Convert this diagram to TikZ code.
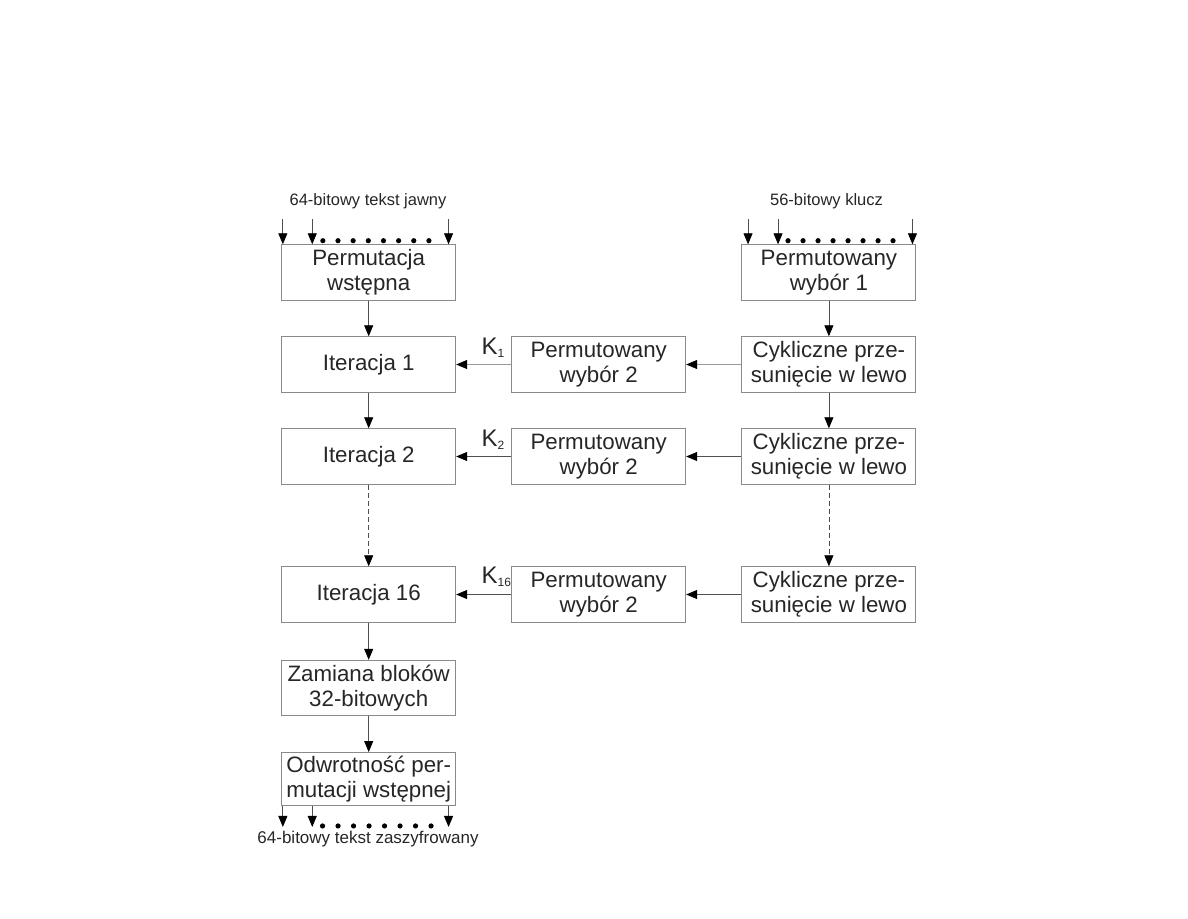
\documentclass[tikz,border=0pt]{standalone}
\usepackage{fontspec}
\setmainfont{Liberation Sans}
\usetikzlibrary{arrows.meta,calc}
\definecolor{boxline}{HTML}{8A8A8A}
\definecolor{conn}{HTML}{505050}
\definecolor{connlight}{HTML}{9A9A9A}
\definecolor{txt}{HTML}{262626}
\newcommand{\ksub}[1]{\raisebox{-3pt}{\fontsize{12}{12}\selectfont #1}}
\begin{document}
\begin{tikzpicture}[x=1pt,y=-1pt,
  box/.style={draw=boxline,line width=0.9pt,minimum width=174pt,minimum height=55.5pt,
    inner sep=0pt,align=center,text=txt,font=\fontsize{22.3}{25}\selectfont},
  arr/.style={draw=conn,line width=0.8pt,-{Triangle[length=11pt,width=9pt,color=black]}},
  arrlight/.style={arr,draw=connlight},
  dasharr/.style={arr,dash pattern=on 5pt off 3pt},
  lab/.style={inner sep=0pt,text=txt,font=\fontsize{16.5}{18}\selectfont},
  klab/.style={inner sep=0pt,text=txt,font=\fontsize{24}{26}\selectfont},
  dotfill/.style={fill=black}
]
\useasboundingbox (0,0) rectangle (1188,918);

% left column
\node[box] (pw) at (368.7,272.5) {Permutacja\\wstępna};
\node[box] (it1) at (368.7,364.5) {Iteracja 1};
\node[box] (it2) at (368.7,456.5) {Iteracja 2};
\node[box] (it16) at (368.7,594.5) {Iteracja 16};
\node[box] (zam) at (368.7,688) {Zamiana bloków\\32-bitowych};
\node[box,minimum height=53pt] (odw) at (368.7,779) {Odwrotność per-\\mutacji wstępnej};

% middle column
\node[box] (pwa) at (598.7,364.5) {Permutowany\\wybór 2};
\node[box] (pwb) at (598.7,456.5) {Permutowany\\wybór 2};
\node[box] (pwc) at (598.7,594.5) {Permutowany\\wybór 2};

% right column
\node[box] (pw1) at (828.9,272.5) {Permutowany\\wybór 1};
\node[box] (cpa) at (828.9,364.5) {Cykliczne prze-\\sunięcie w lewo};
\node[box] (cpb) at (828.9,456.5) {Cykliczne prze-\\sunięcie w lewo};
\node[box] (cpc) at (828.9,594.5) {Cykliczne prze-\\sunięcie w lewo};

% labels
\node[lab] (tin) at (368,201) {64-bitowy tekst jawny};
\node[lab] (kin) at (826.5,201) {56-bitowy klucz};
\node[lab,font=\fontsize{17}{18}\selectfont] (tout) at (368,839) {64-bitowy tekst zaszyfrowany};

\node[klab,anchor=base west] (k1) at ($(it1.east)+(25.3,-10)$) {K\ksub{1}};
\node[klab,anchor=base west] (k2) at ($(it2.east)+(25.3,-10.5)$) {K\ksub{2}};
\node[klab,anchor=base west] (k16) at ($(it16.east)+(25.3,-11)$) {K\ksub{16}};

% left vertical flow
\draw[arr] (pw) -- (it1);
\draw[arr] (it1) -- (it2);
\draw[dasharr] (it2) -- (it16);
\draw[arr] (it16) -- (zam);
\draw[arr] (zam) -- (odw);

% right vertical flow
\draw[arr] (pw1) -- (cpa);
\draw[arr] (cpa) -- (cpb);
\draw[dasharr] (cpb) -- (cpc);

% horizontal flow
\draw[arrlight] (cpa) -- (pwa);
\draw[arrlight] (pwa) -- (it1);
\draw[arr] (cpb) -- (pwb);
\draw[arr] (pwb) -- (it2);
\draw[arr] (cpc) -- (pwc);
\draw[arr] (pwc) -- (it16);

% input arrows (plaintext)
\foreach \dx in {1.6,31,167.3}
  \draw[arr] ([xshift=\dx pt,yshift=25pt]pw.north west) -- ([xshift=\dx pt]pw.north west);
\foreach \i in {0,...,7}
  \fill[dotfill] ($(pw.north west)+(41.6+15.15*\i,-3.6)$) circle (2.6pt);

% input arrows (key)
\foreach \dx in {6.6,36.6,171}
  \draw[arr] ([xshift=\dx pt,yshift=25pt]pw1.north west) -- ([xshift=\dx pt]pw1.north west);
\foreach \i in {0,...,7}
  \fill[dotfill] ($(pw1.north west)+(46.6+15*\i,-3.6)$) circle (2.6pt);

% output arrows
\foreach \dx in {1.6,31,167.3}
  \draw[arr] ([xshift=\dx pt]odw.south west) -- ([xshift=\dx pt,yshift=-21pt]odw.south west);
\foreach \i in {0,...,7}
  \fill[dotfill] ($(odw.south west)+(41.3+15.5*\i,20)$) circle (2.6pt);
\end{tikzpicture}
\end{document}
